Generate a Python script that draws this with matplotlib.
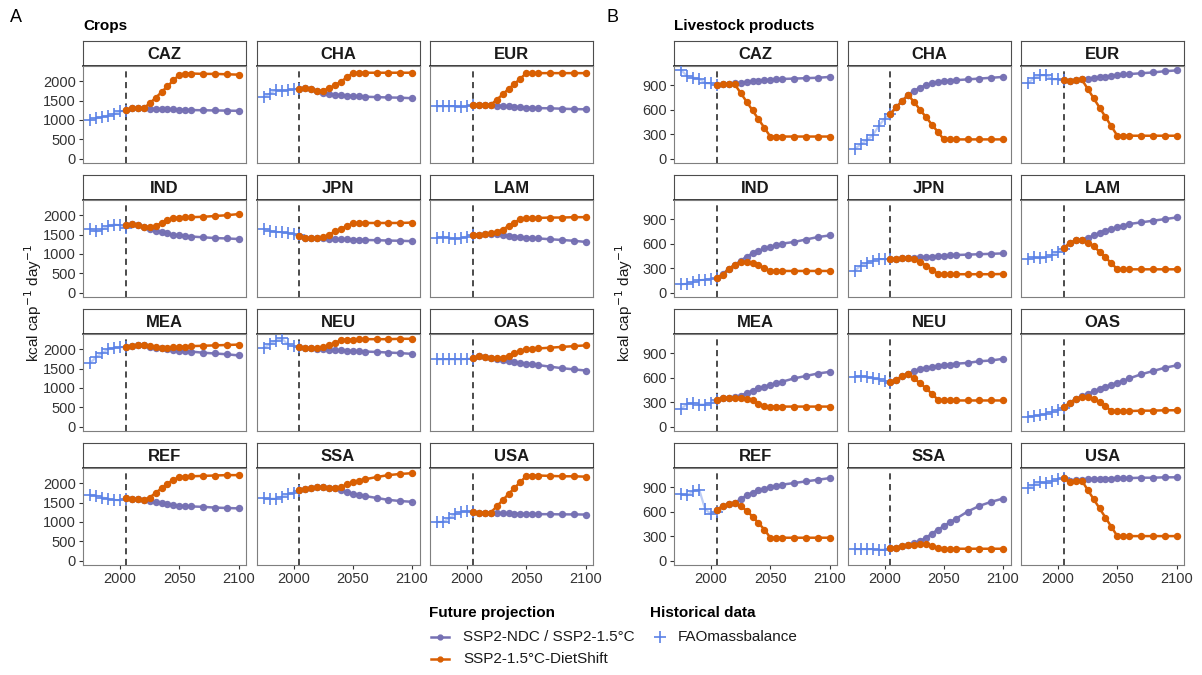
import matplotlib
matplotlib.use("Agg")
import matplotlib.pyplot as plt
from matplotlib.lines import Line2D

plt.rcParams['font.family'] = ['Liberation Sans', 'DejaVu Sans']

# ---------------- data ----------------
regions = ["CAZ", "CHA", "EUR", "IND", "JPN", "LAM", "MEA", "NEU", "OAS", "REF", "SSA", "USA"]
hist_years = [1975, 1980, 1985, 1990, 1995, 2000, 2005]
proj_years = [2005, 2010, 2015, 2020, 2025, 2030, 2035, 2040, 2045, 2050, 2055, 2060, 2070, 2080, 2090, 2100]
x_ticks = [2000, 2050, 2100]
crops_yticks = [0, 500, 1000, 1500, 2000]
live_yticks = [0, 300, 600, 900]

crops_hist = {
    "CAZ": [1010, 1040, 1080, 1110, 1160, 1220, 1240],
    "CHA": [1590, 1680, 1770, 1760, 1770, 1790, 1800],
    "EUR": [1350, 1350, 1350, 1350, 1340, 1360, 1380],
    "IND": [1650, 1580, 1640, 1720, 1760, 1740, 1660],
    "JPN": [1650, 1600, 1570, 1560, 1540, 1520, 1490],
    "LAM": [1420, 1440, 1420, 1390, 1410, 1450, 1490],
    "MEA": [1650, 1800, 1900, 2000, 2040, 2050, 2060],
    "NEU": [2040, 2130, 2220, 2280, 2130, 2080, 2060],
    "OAS": [1740, 1740, 1740, 1740, 1740, 1750, 1760],
    "REF": [1700, 1680, 1630, 1600, 1570, 1560, 1600],
    "SSA": [1610, 1600, 1600, 1650, 1710, 1760, 1810],
    "USA": [1000, 1000, 1100, 1200, 1250, 1280, 1260],
}
crops_ndc = {
    "CAZ": [1250, 1300, 1300, 1300, 1290, 1285, 1280, 1275, 1270, 1265, 1260, 1255, 1250, 1245, 1240, 1235],
    "CHA": [1810, 1830, 1790, 1740, 1700, 1670, 1650, 1640, 1630, 1620, 1610, 1600, 1590, 1580, 1575, 1560],
    "EUR": [1390, 1390, 1390, 1390, 1370, 1360, 1350, 1340, 1330, 1320, 1310, 1305, 1300, 1290, 1280, 1275],
    "IND": [1760, 1770, 1740, 1690, 1640, 1600, 1560, 1530, 1500, 1480, 1470, 1450, 1430, 1410, 1400, 1385],
    "JPN": [1470, 1410, 1400, 1400, 1400, 1390, 1385, 1380, 1375, 1370, 1365, 1360, 1355, 1345, 1340, 1330],
    "LAM": [1490, 1500, 1510, 1520, 1510, 1490, 1470, 1450, 1430, 1420, 1410, 1400, 1380, 1360, 1340, 1310],
    "MEA": [2060, 2090, 2110, 2100, 2070, 2040, 2020, 2000, 1980, 1960, 1950, 1940, 1910, 1890, 1870, 1840],
    "NEU": [2050, 2040, 2020, 2010, 2000, 1990, 1980, 1970, 1960, 1950, 1945, 1940, 1930, 1915, 1900, 1880],
    "OAS": [1770, 1820, 1810, 1780, 1750, 1720, 1700, 1670, 1650, 1630, 1610, 1590, 1550, 1510, 1480, 1450],
    "REF": [1620, 1600, 1580, 1560, 1540, 1510, 1480, 1460, 1440, 1420, 1410, 1400, 1390, 1370, 1360, 1350],
    "SSA": [1820, 1860, 1880, 1890, 1890, 1880, 1870, 1830, 1780, 1730, 1700, 1670, 1620, 1570, 1540, 1520],
    "USA": [1250, 1240, 1240, 1240, 1230, 1225, 1220, 1215, 1210, 1205, 1205, 1200, 1200, 1195, 1195, 1190],
}
crops_diet = {
    "CAZ": [1250, 1300, 1300, 1300, 1430, 1570, 1720, 1870, 2020, 2170, 2200, 2200, 2190, 2190, 2180, 2170],
    "CHA": [1810, 1830, 1790, 1740, 1760, 1820, 1900, 1990, 2100, 2210, 2220, 2220, 2220, 2220, 2220, 2220],
    "EUR": [1390, 1390, 1390, 1390, 1520, 1660, 1800, 1930, 2070, 2210, 2210, 2210, 2210, 2210, 2210, 2210],
    "IND": [1760, 1770, 1740, 1700, 1690, 1720, 1800, 1880, 1930, 1940, 1945, 1950, 1960, 1980, 2000, 2030],
    "JPN": [1470, 1410, 1400, 1400, 1430, 1500, 1580, 1650, 1720, 1790, 1800, 1800, 1800, 1800, 1800, 1810],
    "LAM": [1490, 1500, 1510, 1530, 1570, 1630, 1720, 1810, 1900, 1920, 1930, 1930, 1940, 1940, 1950, 1950],
    "MEA": [2060, 2090, 2110, 2110, 2090, 2060, 2040, 2040, 2050, 2060, 2070, 2080, 2090, 2100, 2110, 2120],
    "NEU": [2050, 2040, 2020, 2030, 2060, 2100, 2170, 2230, 2250, 2250, 2260, 2260, 2260, 2260, 2270, 2270],
    "OAS": [1770, 1820, 1810, 1780, 1770, 1780, 1830, 1890, 1960, 2000, 2010, 2020, 2040, 2060, 2080, 2100],
    "REF": [1620, 1600, 1580, 1560, 1630, 1750, 1870, 1990, 2090, 2160, 2170, 2180, 2190, 2200, 2210, 2210],
    "SSA": [1820, 1860, 1880, 1890, 1890, 1880, 1870, 1900, 1970, 2030, 2070, 2100, 2160, 2210, 2240, 2260],
    "USA": [1250, 1240, 1240, 1240, 1400, 1560, 1720, 1880, 2030, 2190, 2200, 2200, 2190, 2180, 2180, 2170],
}
live_hist = {
    "CAZ": [1080, 1010, 990, 980, 925, 920, 900],
    "CHA": [120, 175, 225, 285, 395, 490, 550],
    "EUR": [930, 990, 1020, 1020, 970, 970, 960],
    "IND": [100, 110, 130, 150, 160, 170, 180],
    "JPN": [270, 330, 360, 390, 410, 410, 410],
    "LAM": [410, 430, 420, 430, 460, 500, 530],
    "MEA": [220, 280, 290, 270, 270, 290, 320],
    "NEU": [610, 620, 610, 590, 580, 560, 540],
    "OAS": [120, 130, 140, 160, 180, 200, 230],
    "REF": [810, 800, 850, 870, 630, 570, 600],
    "SSA": [140, 140, 140, 140, 135, 135, 140],
    "USA": [890, 930, 960, 950, 970, 1000, 1010],
}
live_ndc = {
    "CAZ": [900, 910, 910, 920, 930, 940, 950, 955, 960, 965, 970, 975, 980, 985, 990, 1000],
    "CHA": [550, 630, 710, 780, 830, 870, 900, 920, 935, 945, 955, 960, 970, 980, 990, 1000],
    "EUR": [960, 950, 960, 970, 980, 990, 1000, 1005, 1015, 1020, 1030, 1035, 1045, 1055, 1070, 1080],
    "IND": [180, 230, 290, 340, 390, 440, 480, 510, 540, 560, 580, 600, 620, 650, 680, 700],
    "JPN": [410, 410, 420, 420, 425, 430, 435, 440, 445, 450, 455, 460, 465, 470, 475, 480],
    "LAM": [545, 610, 640, 650, 670, 700, 730, 760, 780, 800, 820, 840, 860, 880, 900, 920],
    "MEA": [330, 350, 350, 360, 380, 410, 440, 470, 490, 510, 530, 550, 590, 620, 650, 670],
    "NEU": [550, 570, 620, 650, 680, 700, 720, 730, 740, 750, 760, 770, 780, 800, 810, 830],
    "OAS": [240, 290, 340, 370, 400, 430, 460, 490, 510, 540, 560, 590, 640, 680, 720, 750],
    "REF": [620, 670, 690, 710, 750, 800, 830, 860, 880, 900, 910, 930, 950, 970, 990, 1010],
    "SSA": [150, 160, 180, 190, 210, 240, 280, 330, 380, 420, 470, 510, 600, 670, 720, 760],
    "USA": [1010, 980, 985, 990, 995, 1000, 1000, 1005, 1005, 1010, 1010, 1010, 1015, 1015, 1020, 1020],
}
live_diet = {
    "CAZ": [900, 910, 910, 910, 803, 697, 590, 483, 377, 270, 270, 270, 270, 270, 270, 270],
    "CHA": [550, 630, 710, 780, 689, 598, 507, 416, 326, 235, 235, 235, 235, 235, 235, 235],
    "EUR": [960, 950, 960, 970, 855, 740, 625, 510, 395, 280, 280, 280, 280, 280, 280, 280],
    "IND": [180, 220, 290, 340, 370, 375, 365, 340, 300, 265, 265, 265, 265, 265, 265, 265],
    "JPN": [410, 410, 420, 420, 410, 380, 330, 280, 230, 225, 225, 225, 225, 225, 225, 228],
    "LAM": [545, 610, 640, 640, 610, 570, 500, 430, 360, 285, 285, 285, 285, 285, 285, 285],
    "MEA": [330, 350, 350, 350, 350, 340, 320, 280, 250, 245, 245, 245, 245, 245, 245, 245],
    "NEU": [550, 570, 620, 645, 590, 530, 470, 400, 330, 320, 320, 320, 320, 320, 320, 320],
    "OAS": [240, 290, 340, 360, 360, 340, 300, 250, 190, 190, 190, 190, 195, 195, 200, 200],
    "REF": [620, 670, 690, 710, 670, 610, 540, 460, 380, 280, 280, 280, 280, 280, 280, 280],
    "SSA": [150, 160, 180, 190, 195, 200, 200, 180, 150, 140, 140, 145, 145, 145, 145, 145],
    "USA": [1010, 960, 970, 980, 867, 753, 640, 527, 413, 300, 300, 300, 300, 300, 300, 300],
}

# ---------------- style ----------------
PURPLE = '#7570B3'
ORANGE = '#D95F02'
BLUE = '#5B82E6'
W, H = 1202, 675
fig = plt.figure(figsize=(W / 100, H / 100), dpi=100)


def fx(px):
    return px / W


def fy(py):
    return 1 - py / H


PW, PH, SH = 163, 97, 25
row_tops = [41, 175, 309, 443]
colsA = [83, 256.5, 430]
colsB = [674, 847.5, 1021]


def panel(left, top, reg, hist, ndc, diet, ylim, yticks, show_y, show_x):
    sax = fig.add_axes([fx(left), fy(top + SH), PW / W, SH / H])
    sax.set_xticks([]); sax.set_yticks([])
    for s in sax.spines.values():
        s.set_color('#4D4D4D'); s.set_linewidth(0.8)
    sax.spines['bottom'].set_color('#1A1A1A'); sax.spines['bottom'].set_linewidth(1.2)
    sax.text(0.5, 0.47, reg, ha='center', va='center', fontsize=12, fontweight='bold',
             color='#1A1A1A', transform=sax.transAxes)

    ax = fig.add_axes([fx(left), fy(top + SH + PH), PW / W, PH / H])
    ax.axvline(2005, color='#1A1A1A', ls=(0, (4, 3)), lw=1.1, zorder=1)
    ax.plot(hist_years, hist, color=BLUE, alpha=0.4, lw=1.6, zorder=2)
    ax.plot(hist_years, hist, ls='none', marker='+', ms=8, mew=1.2, color=BLUE, zorder=3)
    ax.plot(proj_years, ndc, color=PURPLE, lw=1.8, marker='o', ms=4.3, alpha=0.95, zorder=4)
    ax.plot(proj_years, diet, color=ORANGE, lw=1.8, marker='o', ms=4.3, zorder=5)
    ax.set_xlim(1968.75, 2106.25)
    ax.set_ylim(*ylim)
    ax.set_xticks(x_ticks)
    ax.set_yticks(yticks)
    for s in ax.spines.values():
        s.set_color('#7F7F7F'); s.set_linewidth(0.8)
    ax.tick_params(length=3, width=0.8, color='#333333', labelsize=10.5, labelcolor='#333333', pad=2)
    if not show_y:
        ax.tick_params(axis='y', left=False, labelleft=False)
    if not show_x:
        ax.tick_params(axis='x', bottom=False, labelbottom=False)
    return ax


def block(cols, hist_d, ndc_d, diet_d, yticks):
    allv = [v for d in (hist_d, ndc_d, diet_d) for r in regions for v in d[r]]
    ymax = max(allv)
    ylim = (-0.05 * ymax, ymax * 1.05)
    for i, reg in enumerate(regions):
        r, c = divmod(i, 3)
        panel(cols[c], row_tops[r], reg, hist_d[reg], ndc_d[reg], diet_d[reg], ylim, yticks,
              show_y=(c == 0), show_x=(r == 3))


block(colsA, crops_hist, crops_ndc, crops_diet, crops_yticks)
block(colsB, live_hist, live_ndc, live_diet, live_yticks)

ylab = 'kcal cap$^{-1}$ day$^{-1}$'
fig.text(fx(33), fy(303), ylab, rotation=90, ha='center', va='center', fontsize=11, color='#1A1A1A')
fig.text(fx(624), fy(303), ylab, rotation=90, ha='center', va='center', fontsize=11, color='#1A1A1A')

fig.text(fx(10), fy(18), 'A', fontsize=13, ha='left', va='center')
fig.text(fx(606), fy(18), 'B', fontsize=13, ha='left', va='center')
fig.text(fx(83), fy(26), 'Crops', fontsize=11, fontweight='bold', ha='left', va='center')
fig.text(fx(674), fy(26), 'Livestock products', fontsize=11, fontweight='bold', ha='left', va='center')

# ---------------- legend ----------------
fig.text(fx(429), fy(613), 'Future projection', fontsize=11, fontweight='bold', ha='left', va='center')
fig.text(fx(650), fy(613), 'Historical data', fontsize=11, fontweight='bold', ha='left', va='center')
for yy, col, lab in [(637, PURPLE, 'SSP2-NDC / SSP2-1.5°C'), (659, ORANGE, 'SSP2-1.5°C-DietShift')]:
    fig.add_artist(Line2D([fx(431), fx(449)], [fy(yy), fy(yy)], color=col, lw=1.8,
                          transform=fig.transFigure))
    fig.add_artist(Line2D([fx(440)], [fy(yy)], color=col, marker='o', ms=3.5, ls='none',
                          transform=fig.transFigure))
    fig.text(fx(463), fy(yy), lab, fontsize=11, ha='left', va='center', color='#1A1A1A')
fig.add_artist(Line2D([fx(660)], [fy(637)], color=BLUE, marker='+', ms=8, mew=1.2, ls='none',
                      transform=fig.transFigure))
fig.text(fx(678), fy(637), 'FAOmassbalance', fontsize=11, ha='left', va='center', color='#1A1A1A')

fig.savefig('out.png', dpi=100)
